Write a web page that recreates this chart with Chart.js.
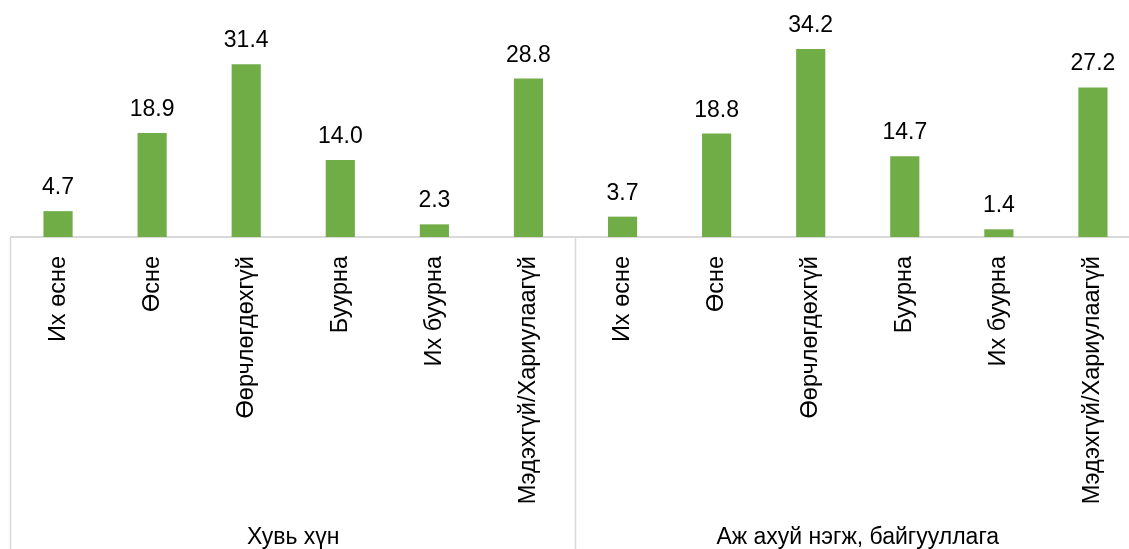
<!DOCTYPE html>
<html>
<head>
<meta charset="utf-8">
<script src="https://cdn.jsdelivr.net/npm/chart.js@4"></script>
<style>
  html, body { margin: 0; padding: 0; overflow: hidden; background: #fff; }
  #wrap { width: 1140px; height: 549px; }
</style>
</head>
<body>
<div id="wrap"><canvas id="chart"></canvas></div>
<script>
var categories = ["Их өсне", "Өсне", "Өөрчлөгдөхгүй", "Буурна", "Их буурна", "Мэдэхгүй/Хариулаагүй"];
var groups = ["Хувь хүн", "Аж ахуй нэгж, байгууллага"];
var personValues = [4.7, 18.9, 31.4, 14.0, 2.3, 28.8];
var businessValues = [3.7, 18.8, 34.2, 14.7, 1.4, 27.2];

var labels = categories.concat(categories);
var values = personValues.concat(businessValues);

var FONT = "'Liberation Sans', Arial, sans-serif";

var valueLabels = {
  id: "valueLabels",
  afterDatasetsDraw: function (chart) {
    var ctx = chart.ctx;
    var meta = chart.getDatasetMeta(0);
    ctx.save();
    ctx.font = "23px " + FONT;
    ctx.fillStyle = "#000";
    ctx.textAlign = "center";
    ctx.textBaseline = "alphabetic";
    meta.data.forEach(function (bar, i) {
      ctx.fillText(values[i].toFixed(1), bar.x, bar.y - 17);
    });
    ctx.restore();
  }
};

var groupAxis = {
  id: "groupAxis",
  afterDraw: function (chart) {
    var ctx = chart.ctx;
    var x = chart.scales.x;
    var top = chart.chartArea.bottom;
    var bottom = chart.height;
    var n = labels.length;
    var per = categories.length;
    ctx.save();
    ctx.strokeStyle = "#d9d9d9";
    ctx.lineWidth = 1.5;
    for (var b = 0; b <= n; b += per) {
      var px = Math.round(x.left + (x.right - x.left) * b / n) - 0.5;
      ctx.beginPath();
      ctx.moveTo(px, top);
      ctx.lineTo(px, bottom);
      ctx.stroke();
    }
    ctx.font = "23px " + FONT;
    ctx.fillStyle = "#000";
    ctx.textAlign = "center";
    ctx.textBaseline = "alphabetic";
    groups.forEach(function (g, i) {
      var l = x.left + (x.right - x.left) * (i * per) / n;
      var r = x.left + (x.right - x.left) * ((i + 1) * per) / n;
      ctx.fillText(g, (l + r) / 2, 544);
    });
    ctx.restore();
  }
};

new Chart(document.getElementById("chart"), {
  type: "bar",
  data: {
    labels: labels,
    datasets: [
      {
        data: values,
        backgroundColor: "#70ad47",
        borderWidth: 0,
        categoryPercentage: 1,
        barPercentage: 0.31
      }
    ]
  },
  options: {
    responsive: true,
    maintainAspectRatio: false,
    animation: false,
    layout: { padding: { left: 11, right: 0, top: 17, bottom: 0 } },
    plugins: {
      legend: { display: false },
      tooltip: { enabled: false }
    },
    scales: {
      x: {
        grid: { display: false, drawTicks: false },
        border: { display: true, color: "#d9d9d9", width: 2 },
        ticks: {
          color: "#000",
          font: { family: FONT, size: 23.5 },
          minRotation: 90,
          maxRotation: 90,
          autoSkip: false,
          padding: 19
        },
        afterFit: function (scale) {
          scale.height = 312;
          scale.paddingLeft = 0;
          scale.paddingRight = 0;
        }
      },
      y: {
        display: false,
        min: 0,
        max: 40
      }
    }
  },
  plugins: [valueLabels, groupAxis]
});
</script>
</body>
</html>
